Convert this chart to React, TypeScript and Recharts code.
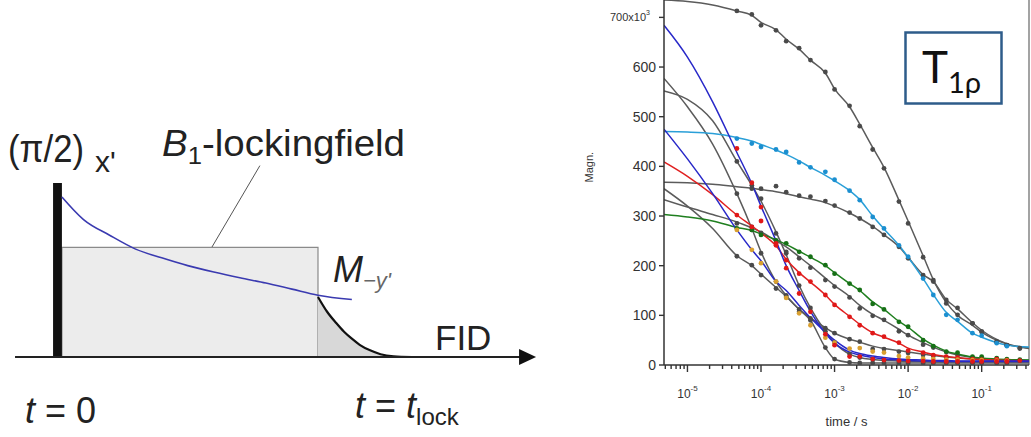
import React from "react";
import {
  ComposedChart,
  Line,
  Scatter,
  Area,
  XAxis,
  YAxis,
  ReferenceArea,
  ReferenceLine,
  ReferenceDot,
} from "recharts";

// ---- T1rho decay curves: time in s, magnetisation in units of 10^3 ----
const fitTimes = [
  4.8e-6, 1e-5, 2.2e-5, 4.7e-5, 7.5e-5, 1e-4, 1.6e-4, 2.2e-4, 3.3e-4, 4.7e-4, 7.5e-4, 1e-3, 1.6e-3,
  2.2e-3, 3.3e-3, 4.7e-3, 7.5e-3, 1e-2, 1.6e-2, 2.2e-2, 3.3e-2, 4.7e-2, 7.5e-2, 0.1, 0.22, 0.44,
];
const dotTimes = [
  4.7e-5, 7.5e-5, 1e-4, 1.6e-4, 2.2e-4, 3.3e-4, 4.7e-4, 7.5e-4, 1e-3, 1.6e-3, 2.2e-3, 3.3e-3,
  4.7e-3, 7.5e-3, 1e-2, 1.6e-2, 2.2e-2, 3.3e-2, 4.7e-2, 7.5e-2, 0.1, 0.16, 0.22, 0.33,
];

const grayAFit = [735, 732, 725, 713, 704, 690, 675, 656, 636, 614, 588, 556, 520, 485, 438, 398, 332, 290, 220, 172, 126, 100, 80, 66, 42, 33];
const grayADots = [713, 706, 684, 674, 652, 638, 614, 590, 555, 522, 481, 434, 396, 329, 285, 217, 171, 124, 101, 84, 67, 47, 40, 34];

const grayBFit = [368, 367, 364, 359, 356, 353, 349, 345, 339, 334, 327, 320, 306, 295, 279, 262, 238, 217, 182, 168, 132, 113, 85, 70, 43, 34];
const grayBDots = [null, 355, 355, 360, 348, 341, 339, 330, 321, 307, 295, 278, 262, 238, 215, 181, 168, 131, 115, 84, 67, 47, 40, 33];

const cyanFit = [470, 469, 466, 458, 451, 444, 433, 424, 411, 398, 382, 371, 351, 333, 300, 274, 241, 217, 174, 142, 106, 88, 64, 56, 40, 36];
const cyanDots = [456, 446, 439, 434, 429, 408, 398, 389, 373, 351, 332, 298, 275, 241, 218, 174, 141, 101, 91, 64, 59, 44, 38, null];

const grayD1Fit = [577, 520, 445, 345, 275, 228, 168, 140, 112, 90, 35, 12, 5, 4, 4, 4, 4, 4, 4, 4, 4, 4, 4, 4, 4, 4];
const grayD1Dots = [345, 278, 225, 168, 140, 112, 90, 35, 12, 5, 4, 4, 4, 4, 4, 4, 4, 4, 4, 4, 4, 4, 4, null];

const grayD2Fit = [552, 535, 492, 410, 362, 330, 268, 222, 160, 115, 68, 45, 22, 15, 11, 9, 8, 7, 7, 6, 6, 6, 6, 6, 6, 6];
const grayD2Dots = [410, 362, 335, 265, 225, 160, 115, 68, 45, 22, 15, 11, 9, 8, 7, 7, 6, 6, 6, 6, 6, 6, 6, null];

const grayEFit = [355, 320, 275, 220, 200, 183, 156, 138, 112, 95, 75, 64, 52, 46, 38, 33, 29, 26, 22, 19, 16, 14, 12, 11, 10, 9];
const grayEDots = [219, 201, 181, 154, 137, 107, 94, 74, 64, 52, 47, 32, 32, 27, 24, 20, 18, 15, 13, 12, 11, 10, 10, 9];

const grayFFit = [333, 318, 303, 288, 276, 268, 250, 238, 218, 200, 175, 160, 138, 120, 102, 90, 72, 60, 45, 36, 26, 20, 15, 12, 10, 9];
const grayFDots = [285, 272, 266, 250, 228, 215, 196, 171, 158, 136, 114, 99, 91, 68, 60, 41, 35, 26, 20, 15, 12, 10, 9, null];

const greenFit = [303, 298, 290, 277, 271, 264, 252, 243, 229, 217, 200, 186, 164, 150, 127, 112, 88, 76, 52, 40, 28, 22, 16, 14, 11, 10];
const greenDots = [275, 272, 262, 251, 245, 228, 218, 201, 184, 164, 151, 123, 112, 87, 77, 50, 38, 27, 25, 17, 17, 14, 12, 11];

const redFit = [409, 380, 343, 302, 280, 266, 240, 213, 186, 167, 141, 122, 98, 82, 65, 56, 44, 34, 26, 21, 17, 15, 12, 11, 9, 8];
const redDots = [302, 278, 290, 241, 211, 184, 168, 141, 121, 97, 80, 64, 57, 45, 29, 25, 20, 17, 15, 12, 11, 12, 10, 9];

const blue1Fit = [684, 620, 530, 428, 365, 320, 250, 200, 150, 108, 64, 44, 26, 20, 15, 12, 10, 9, 8, 8, 7, 7, 7, 7, 7, 7];
const blue1Dots = [436, 367, 318, 245, 195, 144, 107, 62, 40, 17, 17, 12, 10, 9, 8, 8, 7, 7, 7, 7, 7, 7, 7, null];

const blue2Fit = [475, 415, 345, 272, 232, 210, 168, 150, 120, 95, 66, 50, 30, 23, 18, 15, 12, 11, 10, 9, 9, 8, 8, 8, 8, 8];
const blue2Dots = [272, 232, 205, 168, 135, 104, 80, 55, 45, 33, 34, 27, 25, 18, 15, 13, 12, 11, 11, 10, 10, 9, 9, null];

const magTicks = [0, 100, 200, 300, 400, 500, 600, 700];
const decadeTicks = [1e-5, 1e-4, 1e-3, 1e-2, 1e-1];
const minorSteps = [2, 3, 4, 5, 6, 7, 8, 9];

// ---- spin-lock sketch: time in arbitrary units, amplitude relative to the pulse ----
const blueTimes = [0.17, 1, 2, 3, 4, 5, 6, 7, 8, 9, 10, 11.3];
const blueAmps = [0.92, 0.79, 0.7, 0.62, 0.57, 0.525, 0.488, 0.455, 0.425, 0.39, 0.355, 0.33];
const fidTimes = [10, 10.35, 10.7, 11, 11.3, 11.6, 12, 12.4, 12.9, 13.6];
const fidAmps = [0.345, 0.26, 0.195, 0.145, 0.105, 0.07, 0.038, 0.016, 0.004, 0];

const zip = (ts: number[], vs: (number | null)[]) =>
  ts.map((t, i) => ({ t, v: vs[i] })).filter((p) => p.v !== null && p.v !== undefined);

const minorTicks: number[] = [];
[1e-6, ...decadeTicks].forEach((d) =>
  minorSteps.forEach((k) => {
    const v = d * k;
    if (v > 4.8e-6 && v < 0.44) minorTicks.push(v);
  })
);
const xTicks = [...decadeTicks, ...minorTicks].sort((a, b) => a - b);

const series = [
  { fit: grayAFit, dots: grayADots, line: "#5b5b5b", dot: "#4a4a4a" },
  { fit: grayBFit, dots: grayBDots, line: "#5b5b5b", dot: "#4a4a4a" },
  { fit: grayD1Fit, dots: grayD1Dots, line: "#5b5b5b", dot: "#4a4a4a" },
  { fit: grayD2Fit, dots: grayD2Dots, line: "#5b5b5b", dot: "#4a4a4a" },
  { fit: grayEFit, dots: grayEDots, line: "#5b5b5b", dot: "#4a4a4a" },
  { fit: grayFFit, dots: grayFDots, line: "#5b5b5b", dot: "#4a4a4a" },
  { fit: greenFit, dots: greenDots, line: "#1f7f1f", dot: "#167016" },
  { fit: redFit, dots: redDots, line: "#e02020", dot: "#e01818" },
  { fit: cyanFit, dots: cyanDots, line: "#2a9fd8", dot: "#1b8fd0" },
  { fit: blue2Fit, dots: blue2Dots, line: "#2828c8", dot: "#d9a030" },
  { fit: blue1Fit, dots: blue1Dots, line: "#2828c8", dot: "#e01818" },
];

const axisFont = "'Liberation Sans', Arial, sans-serif";

const TimeTick = (props: any) => {
  const { x, y, payload } = props;
  const lg = Math.log10(payload.value);
  const exp = Math.round(lg);
  const major = Math.abs(lg - exp) < 1e-6;
  return (
    <g>
      <line x1={x} x2={x} y1={y} y2={y + (major ? 7 : 4)} stroke="#333" strokeWidth={1.4} />
      {major && (
        <text x={x} y={y + 33} textAnchor="middle" fontSize={12} fill="#333" fontFamily={axisFont}>
          10
          <tspan dy={-7} fontSize={8}>
            {exp}
          </tspan>
        </text>
      )}
    </g>
  );
};

const MagTick = (props: any) => {
  const { x, y, payload } = props;
  if (payload.value === 700) {
    return (
      <text x={x - 6} y={y + 4} textAnchor="end" fontSize={11} fill="#333" fontFamily={axisFont}>
        700x10
        <tspan dy={-6} fontSize={7}>
          3
        </tspan>
      </text>
    );
  }
  return (
    <text x={x} y={y + 5} textAnchor="end" fontSize={14} fill="#333" fontFamily={axisFont}>
      {payload.value}
    </text>
  );
};

function RelaxationChart() {
  return (
    <ComposedChart width={451} height={437} margin={{ top: 0, right: 2, bottom: 0, left: 0 }}>
      <XAxis
        dataKey="t"
        type="number"
        scale="log"
        domain={[4.8e-6, 0.44]}
        allowDataOverflow
        ticks={xTicks}
        interval={0}
        tick={TimeTick}
        tickLine={false}
        tickSize={0}
        tickMargin={0}
        height={72}
        axisLine={{ stroke: "#333", strokeWidth: 1.5 }}
        label={{ value: "time / s", position: "insideBottom", offset: 11, fontSize: 13, fill: "#333", fontFamily: axisFont }}
      />
      <YAxis
        dataKey="v"
        type="number"
        domain={[0, 735]}
        allowDataOverflow
        ticks={magTicks}
        interval={0}
        width={84}
        tick={MagTick}
        tickSize={5}
        tickMargin={3}
        tickLine={{ stroke: "#333", strokeWidth: 1.4 }}
        axisLine={{ stroke: "#333", strokeWidth: 1.5 }}
        label={{ value: "Magn.", angle: -90, position: "insideLeft", offset: 9, fontSize: 11, fill: "#333", fontFamily: axisFont }}
      />
      <ReferenceLine x={0.44} stroke="#666" strokeWidth={1.2} />
      {series.map((s, i) => (
        <Line
          key={"l" + i}
          data={zip(fitTimes, s.fit)}
          dataKey="v"
          type="monotone"
          stroke={s.line}
          strokeWidth={1.5}
          dot={false}
          activeDot={false}
          isAnimationActive={false}
        />
      ))}
      {series.map((s, i) => (
        <Scatter
          key={"s" + i}
          data={zip(dotTimes, s.dots)}
          dataKey="v"
          fill={s.dot}
          isAnimationActive={false}
          shape={(p: any) => <circle cx={p.cx} cy={p.cy} r={2.4} fill={s.dot} />}
        />
      ))}
    </ComposedChart>
  );
}

function SpinLockSketch() {
  return (
    <ComposedChart width={560} height={437} margin={{ top: 0, right: 0, bottom: 0, left: 0 }}>
      <XAxis dataKey="t" type="number" domain={[-2.207, 19.29]} allowDataOverflow hide />
      <YAxis dataKey="v" type="number" domain={[-0.46, 2.052]} allowDataOverflow hide />
      <ReferenceArea x1={0.17} x2={10} y1={0} y2={0.63} fill="#ececec" fillOpacity={1} stroke="#8a8a8a" strokeWidth={1.2} />
      <Area
        data={zip(fidTimes, fidAmps)}
        dataKey="v"
        type="monotone"
        baseValue={0}
        fill="#d8d8d8"
        fillOpacity={1}
        stroke="#111"
        strokeWidth={2.2}
        dot={false}
        activeDot={false}
        isAnimationActive={false}
      />
      <Line
        data={zip(blueTimes, blueAmps)}
        dataKey="v"
        type="monotone"
        stroke="#3a3ab0"
        strokeWidth={1.6}
        dot={false}
        activeDot={false}
        isAnimationActive={false}
      />
      <ReferenceLine segment={[{ x: 5.93, y: 0.632 }, { x: 7.77, y: 1.1 }]} stroke="#555" strokeWidth={1} />
      <ReferenceLine segment={[{ x: -1.63, y: 0 }, { x: 17.8, y: 0 }]} stroke="#222" strokeWidth={2.2} />
      <ReferenceArea x1={-0.17} x2={0.17} y1={0} y2={1} fill="#111" fillOpacity={1} stroke="none" />
      <ReferenceDot
        x={18.37}
        y={0}
        r={0}
        shape={(p: any) => (
          <path d={`M${p.cx},${p.cy} L${p.cx - 17},${p.cy - 8} L${p.cx - 17},${p.cy + 8} Z`} fill="#111" />
        )}
      />
    </ComposedChart>
  );
}

function Annotations() {
  const f = "'Liberation Sans', Arial, sans-serif";
  return (
    <svg width={1031} height={437} style={{ position: "absolute", left: 0, top: 0, pointerEvents: "none" }}>
      <g fontFamily={f} fill="#222">
        <text x={8} y={162} fontSize={38} textLength={76} lengthAdjust="spacingAndGlyphs">
          (π/2)
        </text>
        <text x={95} y={172} fontSize={30}>
          x'
        </text>
        <text x={162} y={156} fontSize={36} textLength={243} lengthAdjust="spacingAndGlyphs">
          <tspan fontStyle="italic">B</tspan>
          <tspan fontSize={24} dy={8}>
            1
          </tspan>
          <tspan dy={-8}>-lockingfield</tspan>
        </text>
        <text x={333} y={282} fontSize={36}>
          <tspan fontStyle="italic">M</tspan>
          <tspan fontSize={22} dy={6} fill="#666" fontStyle="italic">
            −y'
          </tspan>
        </text>
        <text x={435} y={350} fontSize={35}>
          FID
        </text>
        <text x={25} y={423} fontSize={36}>
          <tspan fontStyle="italic">t</tspan> = 0
        </text>
        <text x={355} y={418} fontSize={36}>
          <tspan fontStyle="italic">t</tspan> = <tspan fontStyle="italic">t</tspan>
          <tspan fontSize={24} dy={7}>
            lock
          </tspan>
        </text>
      </g>
      <rect x={905.5} y={32.5} width={96} height={71} fill="#fff" stroke="#2e5c8a" strokeWidth={2.5} />
      <text x={922} y={83} fontSize={44} fill="#111" fontFamily="Lato, 'Open Sans', sans-serif">
        T
        <tspan fontSize={29} dy={10}>
          1ρ
        </tspan>
      </text>
    </svg>
  );
}

export default function App() {
  return (
    <div style={{ position: "absolute", left: 0, top: 0, width: 1031, height: 437, background: "#fff", overflow: "hidden" }}>
      <div style={{ position: "absolute", left: 0, top: 0 }}>
        <SpinLockSketch />
      </div>
      <div style={{ position: "absolute", left: 580, top: 0 }}>
        <RelaxationChart />
      </div>
      <Annotations />
    </div>
  );
}
